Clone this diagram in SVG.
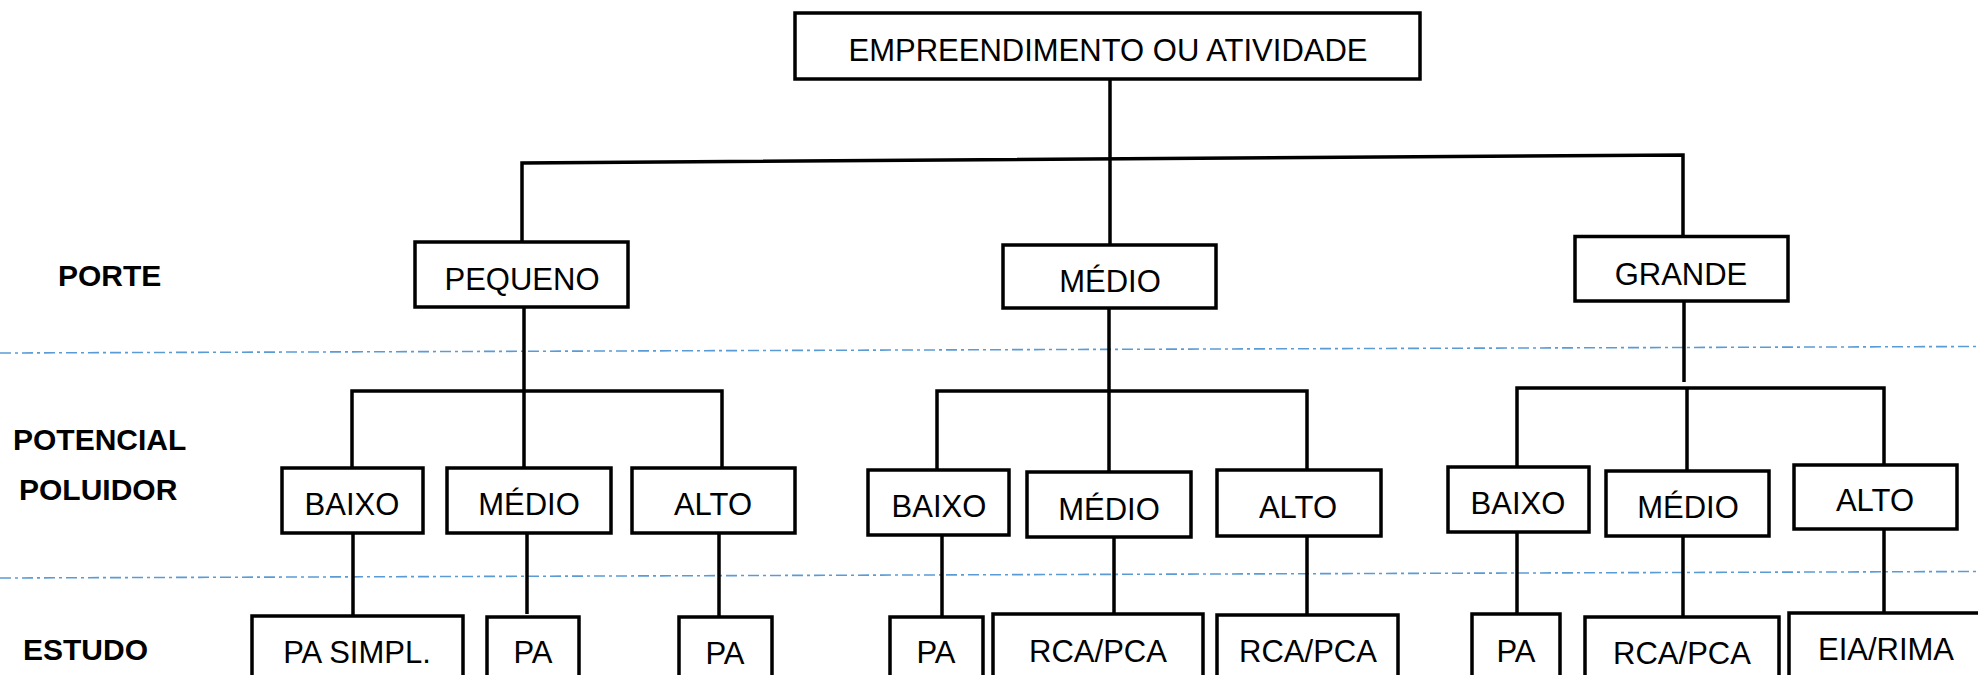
<svg xmlns="http://www.w3.org/2000/svg" width="1978" height="675" viewBox="0 0 1978 675">
<style>
.box{fill:#fff;stroke:#000;stroke-width:3.5}
.t{font-family:"Liberation Sans",Arial,sans-serif;font-size:31px;fill:#000;text-anchor:middle}
.lbl{font-family:"Liberation Sans",Arial,sans-serif;font-size:30px;font-weight:bold;fill:#000}
.c{fill:none;stroke:#000;stroke-width:3.5}
.sep{fill:none;stroke:#5B9BD5;stroke-width:1.6;stroke-dasharray:11 4 3 4}
</style>
<rect width="1978" height="675" fill="#fff"/>
<g id="separators">
<line class="sep" x1="0" y1="353" x2="1978" y2="346.5"/>
<line class="sep" x1="0" y1="578" x2="1978" y2="571.5"/>
</g>
<g id="labels">
<text class="lbl" x="58" y="286">PORTE</text>
<text class="lbl" x="13" y="450">POTENCIAL</text>
<text class="lbl" x="19" y="500">POLUIDOR</text>
<text class="lbl" x="23" y="660">ESTUDO</text>
</g>
<g id="connectors">
<path class="c" d="M1110 79V245"/>
<path class="c" d="M522 242V163L1683 155V236.5"/>
<path class="c" d="M524 307V468M352 468V391H722V468"/>
<path class="c" d="M353 533V616M527 533V614M719 533V616"/>
<path class="c" d="M1109 308V472M937 470V391H1307V470"/>
<path class="c" d="M942 535V617M1114 537V614M1307 536V615"/>
<path class="c" d="M1684 301V382M1517 467V388H1884V465M1687 388V471"/>
<path class="c" d="M1517 532V614M1683 536V617M1884 529V613"/>
</g>
<g id="n-root"><rect class="box" x="795" y="13" width="625" height="66"/><text class="t" x="1108" y="61">EMPREENDIMENTO OU ATIVIDADE</text></g>
<g id="n-pequeno"><rect class="box" x="415" y="242" width="213" height="65"/><text class="t" x="522" y="290">PEQUENO</text></g>
<g id="n-medio"><rect class="box" x="1003" y="245" width="213" height="63"/><text class="t" x="1110" y="292">MÉDIO</text></g>
<g id="n-grande"><rect class="box" x="1575" y="236.5" width="213" height="64.5"/><text class="t" x="1681" y="285">GRANDE</text></g>
<g id="n-p-baixo"><rect class="box" x="282" y="468" width="141" height="65"/><text class="t" x="352" y="515">BAIXO</text></g>
<g id="n-p-medio"><rect class="box" x="447" y="468" width="164" height="65"/><text class="t" x="529" y="515">MÉDIO</text></g>
<g id="n-p-alto"><rect class="box" x="632" y="468" width="163" height="65"/><text class="t" x="713" y="515">ALTO</text></g>
<g id="n-m-baixo"><rect class="box" x="868" y="470" width="141" height="65"/><text class="t" x="939" y="517">BAIXO</text></g>
<g id="n-m-medio"><rect class="box" x="1027" y="472" width="164" height="65"/><text class="t" x="1109" y="520">MÉDIO</text></g>
<g id="n-m-alto"><rect class="box" x="1217" y="470" width="164" height="66"/><text class="t" x="1298" y="518">ALTO</text></g>
<g id="n-g-baixo"><rect class="box" x="1448" y="467" width="141" height="65"/><text class="t" x="1518" y="514">BAIXO</text></g>
<g id="n-g-medio"><rect class="box" x="1606" y="471" width="163" height="65"/><text class="t" x="1688" y="518">MÉDIO</text></g>
<g id="n-g-alto"><rect class="box" x="1794" y="465" width="163" height="64"/><text class="t" x="1875" y="511">ALTO</text></g>
<g id="n-pa-simpl"><rect class="box" x="252" y="616" width="211" height="80"/><text class="t" x="357" y="663">PA SIMPL.</text></g>
<g id="n-pa-1"><rect class="box" x="487" y="617" width="92" height="80"/><text class="t" x="533" y="663">PA</text></g>
<g id="n-pa-2"><rect class="box" x="679" y="617" width="93" height="80"/><text class="t" x="725" y="664">PA</text></g>
<g id="n-pa-3"><rect class="box" x="890" y="617" width="93" height="80"/><text class="t" x="936" y="663">PA</text></g>
<g id="n-rca-1"><rect class="box" x="993" y="614" width="210" height="80"/><text class="t" x="1098" y="662">RCA/PCA</text></g>
<g id="n-rca-2"><rect class="box" x="1217" y="615" width="181" height="80"/><text class="t" x="1308" y="662">RCA/PCA</text></g>
<g id="n-pa-4"><rect class="box" x="1472" y="614" width="88" height="80"/><text class="t" x="1516" y="662">PA</text></g>
<g id="n-rca-3"><rect class="box" x="1585" y="617" width="194" height="80"/><text class="t" x="1682" y="664">RCA/PCA</text></g>
<g id="n-eia"><rect class="box" x="1789" y="613" width="200" height="80"/><text class="t" x="1886" y="660">EIA/RIMA</text></g>
</svg>
